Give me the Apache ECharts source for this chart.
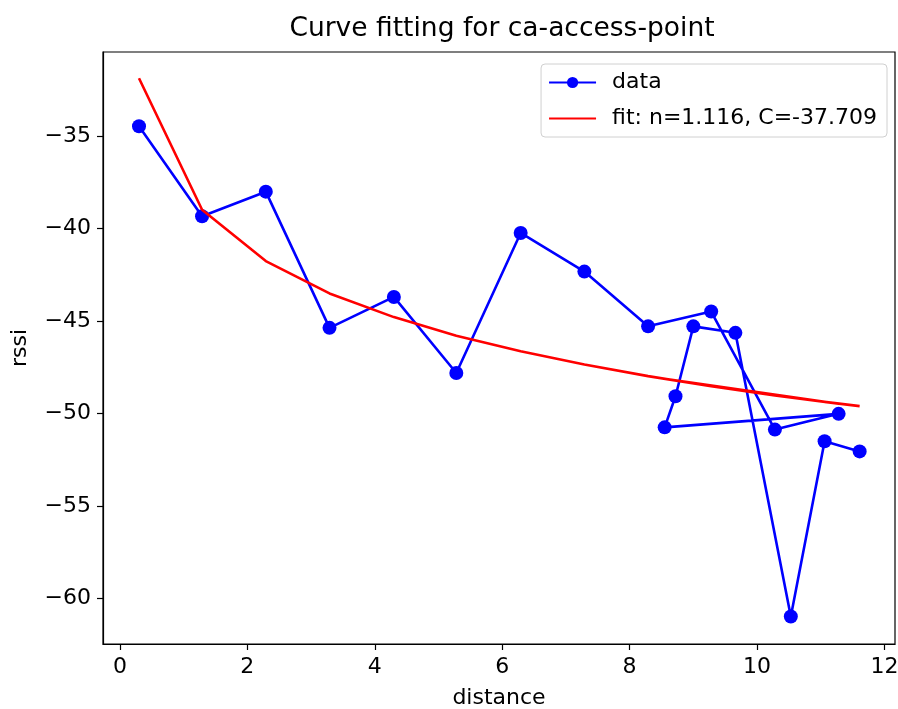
<!DOCTYPE html>
<html>
<head>
<meta charset="utf-8">
<title>Curve fitting</title>
<script src="https://cdn.jsdelivr.net/npm/echarts@6/dist/echarts.min.js"></script>
<style>
  html, body { margin: 0; padding: 0; background: #fff; }
  #chart { width: 898px; height: 709px; }
</style>
</head>
<body>
<div id="chart"></div>
<script>
// values, in the order they were drawn
const distance = [0.3, 1.29, 2.29, 3.29, 4.3, 5.28, 6.29, 7.29, 8.29, 9.28, 10.28, 11.28, 8.55, 8.72, 9.0, 9.66, 10.53, 11.06, 11.61]
const rssi = [-34.46, -39.33, -38.0, -45.36, -43.69, -47.8, -40.23, -42.32, -45.28, -44.48, -50.86, -50.01, -50.74, -49.06, -45.28, -45.63, -60.96, -51.49, -52.04]
const fitRssi = [-31.87, -38.98, -41.75, -43.5, -44.78, -45.79, -46.63, -47.34, -47.97, -48.52, -49.02, -49.46, -48.11, -48.21, -48.36, -48.71, -49.12, -49.36, -49.59]

const xTicks = [0, 2, 4, 6, 8, 10, 12]
const yTicks = [-60, -55, -50, -45, -40, -35]

const font = 'DejaVu Sans'
const minus = v => String(v).replace('-', '\u2212')

const chart = echarts.init(document.getElementById('chart'))

chart.setOption({
  animation: false,
  backgroundColor: '#fff',
  title: {
    text: 'Curve fitting for ca-access-point',
    left: 497,
    textAlign: 'center',
    top: 11,
    textStyle: {
      fontFamily: font,
      fontSize: 26.5,
      fontWeight: 'normal',
      color: '#000'
    }
  },
  grid: {
    left: 103,
    right: 3,
    top: 52,
    bottom: 65,
    outerBoundsMode: 'none',
    containLabel: false,
    show: true,
    borderColor: '#000',
    borderWidth: 1.2
  },
  legend: {
    orient: 'vertical',
    right: 11,
    top: 64,
    padding: [6, 10, 6, 7],
    itemGap: 11,
    itemWidth: 47,
    itemHeight: 14,
    borderColor: '#d0d0d0',
    borderWidth: 1,
    borderRadius: 4,
    textStyle: {
      fontFamily: font,
      fontSize: 22,
      color: '#000',
      lineHeight: 25,
      padding: [0, 0, 0, 11]
    },
    data: [
      'data',
      { name: 'fit: n=1.116, C=-37.709', itemStyle: { opacity: 0 } }
    ]
  },
  xAxis: {
    type: 'value',
    min: -0.265,
    max: 12.165,
    name: 'distance',
    nameLocation: 'middle',
    nameGap: 43,
    nameTextStyle: { fontFamily: font, fontSize: 22, color: '#000' },
    axisLine: { show: true, onZero: false, lineStyle: { color: '#000', width: 1.2 } },
    axisTick: { show: true, length: 6, customValues: xTicks, lineStyle: { color: '#000', width: 1.2 } },
    axisLabel: {
      customValues: xTicks,
      margin: 12,
      fontFamily: font,
      fontSize: 22,
      color: '#000'
    },
    splitLine: { show: false }
  },
  yAxis: {
    type: 'value',
    min: -62.45,
    max: -30.45,
    name: 'rssi',
    nameLocation: 'middle',
    nameGap: 72,
    nameTextStyle: { fontFamily: font, fontSize: 22, color: '#000' },
    axisLine: { show: true, onZero: false, lineStyle: { color: '#000', width: 1.2 } },
    axisTick: { show: true, length: 6, customValues: yTicks, lineStyle: { color: '#000', width: 1.2 } },
    axisLabel: {
      customValues: yTicks,
      margin: 12,
      fontFamily: font,
      fontSize: 22,
      color: '#000',
      formatter: minus
    },
    splitLine: { show: false }
  },
  series: [
    {
      name: 'data',
      type: 'line',
      symbol: 'circle',
      symbolSize: 14,
      itemStyle: { color: '#0000ff' },
      lineStyle: { color: '#0000ff', width: 2.6 },
      data: distance.map((d, i) => [d, rssi[i]]),
      z: 2
    },
    {
      name: 'fit: n=1.116, C=-37.709',
      type: 'line',
      symbol: 'none',
      itemStyle: { color: '#ff0000' },
      lineStyle: { color: '#ff0000', width: 2.6 },
      data: distance.map((d, i) => [d, fitRssi[i]]),
      z: 3
    }
  ]
})
</script>
</body>
</html>
